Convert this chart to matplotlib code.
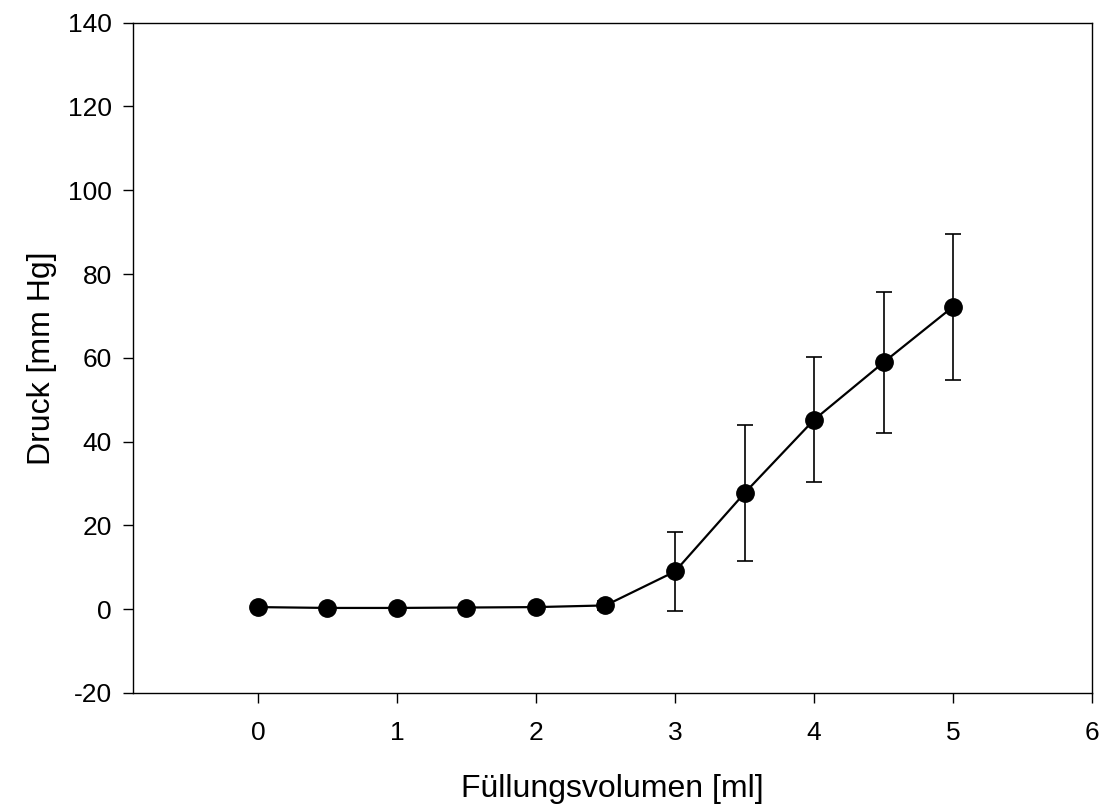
import matplotlib.pyplot as plt

plt.rcParams['font.family'] = ['Liberation Sans', 'DejaVu Sans']
plt.rcParams['axes.unicode_minus'] = False

volume = [0, 0.5, 1, 1.5, 2, 2.5, 3, 3.5, 4, 4.5, 5]
pressure = [0.5, 0.3, 0.3, 0.4, 0.5, 0.9, 9.0, 27.7, 45.2, 58.9, 72.2]
pressure_err = [0.1, 0.1, 0.1, 0.1, 0.1, 1.0, 9.4, 16.2, 14.9, 16.8, 17.4]

fig = plt.figure(figsize=(11.07, 8.09), dpi=100)
ax = fig.add_axes([0.120, 0.1434, 0.8665, 0.8286])

ax.errorbar(volume, pressure, yerr=pressure_err, color="black", lw=1.6,
            marker="o", markersize=12.5, elinewidth=1.2, capsize=6, capthick=1.2)

ax.set_xlim(-0.9, 6)
ax.set_ylim(-20, 140)
ax.set_xticks(range(0, 7))
ax.set_yticks(range(-20, 141, 20))
ax.tick_params(direction="out", length=7, width=1, labelsize=19)
ax.tick_params(axis="x", pad=13)
ax.tick_params(axis="y", pad=8)
for s in ax.spines.values():
    s.set_linewidth(1)

ax.set_xlabel("Füllungsvolumen [ml]", fontsize=23, labelpad=21)
ax.set_ylabel("Druck [mm Hg]", fontsize=23, labelpad=8)

fig.savefig("out.png", dpi=100)
